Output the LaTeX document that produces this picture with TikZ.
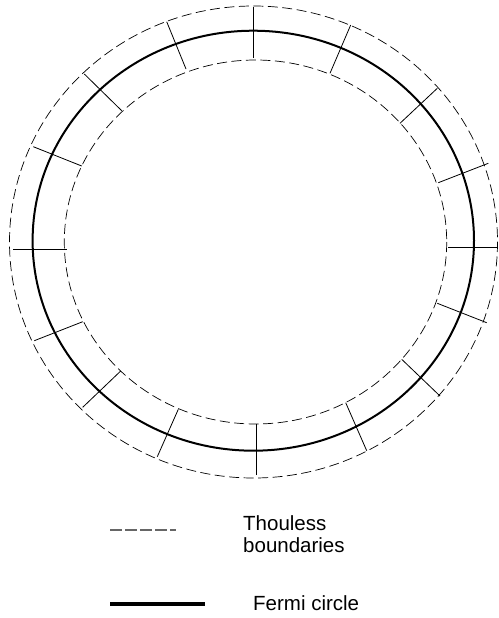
\documentclass[tikz,border=0pt]{standalone}
\usepackage{fontspec}
\setmainfont{Liberation Sans}
\begin{document}
\begin{tikzpicture}[x=1pt,y=-1pt,
  thouless/.style={dash pattern=on 10pt off 4.5pt, line width=0.7pt, black},
  fermi/.style={line width=2pt, black},
  tick/.style={line width=0.8pt, black},
  legtext/.style={font=\fontsize{20.5}{22}\selectfont, inner sep=0pt, align=left}]
\useasboundingbox (0,0) rectangle (498,618);
% Thouless boundaries
\draw[thouless] (253.5,242) ellipse [x radius=244, y radius=236];
\draw[thouless] (255.5,242) ellipse [x radius=191.2, y radius=182];
% Fermi circle
\draw[fermi] (253.3,240.7) ellipse [x radius=220.7, y radius=210];
% ticks
\foreach \a/\b/\c/\d in {
  253.3/6.7/253.3/58.3,
  166.7/21.7/186/69,
  84.3/74/121.7/110.7,
  33.3/146.7/81.7/166,
  13.3/249/66.7/249,
  34.3/340.7/82.7/321.7,
  82.7/407.3/120.7/371,
  157.3/456.7/178.3/409.3,
  256.7/475/256.7/424,
  366.7/450.7/345.7/402.7,
  440/396/401.7/359.3,
  486.7/322.7/437.3/303.3,
  498/247.3/448.3/247.3,
  488.3/163.3/438.3/182.7,
  437.3/88.3/400/123.3,
  350.7/25/330/73.3}
  \draw[tick] (\a,\b) -- (\c,\d);
% legend
\coordinate (l1a) at (110,530);
\coordinate (l1b) at (176,530);
\draw[gray!80!black, line width=1.5pt, dash pattern=on 12pt off 3pt] (l1a) -- (l1b);
\node[legtext, anchor=base west] (t1) at (243,552) {Thouless\\boundaries};
\coordinate (l2a) at (110,604);
\coordinate (l2b) at (205,604);
\draw[line width=3.3pt] (l2a) -- (l2b);
\node[legtext, anchor=base west] (t2) at (253,610) {Fermi circle};
\end{tikzpicture}
\end{document}
